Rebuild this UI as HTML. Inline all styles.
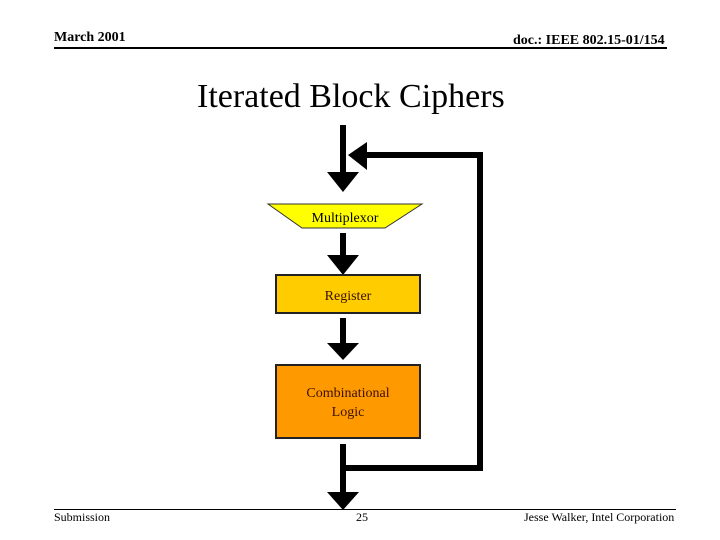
<!DOCTYPE html>
<html><head><style>
body{margin:0;width:720px;height:540px;background:#fff;position:relative;overflow:hidden;font-family:"Liberation Serif",serif}
.t{position:absolute;white-space:nowrap}
</style></head><body>
<div class="t" style="left:54px;top:30px;font-size:14px;font-weight:bold">March 2001</div>
<div class="t" style="left:513px;top:33px;font-size:14px;font-weight:bold">doc.: IEEE 802.15-01/154</div>
<div style="position:absolute;left:54px;top:47px;width:613px;height:2px;background:#000"></div>
<div class="t" style="left:197px;top:78px;font-size:34px">Iterated Block Ciphers</div>
<svg width="720" height="540" style="position:absolute;left:0;top:0">
<g fill="#000">
<rect x="340" y="125" width="6" height="50"/>
<polygon points="327,172 359,172 343,192"/>
<rect x="362" y="152" width="121" height="6"/>
<rect x="477" y="152" width="6" height="319"/>
<polygon points="348,155 367,142 367,170"/>
<rect x="340" y="233" width="6" height="24"/>
<polygon points="327,255 359,255 343,275"/>
<rect x="340" y="318" width="6" height="27"/>
<polygon points="327,343 359,343 343,360"/>
<rect x="340" y="444" width="6" height="50"/>
<rect x="343" y="465" width="140" height="6"/>
<polygon points="327,492 359,492 343,510"/>
</g>
<polygon points="268,204 422,204 385,228 302,228" fill="#ffff00" stroke="#333" stroke-width="1"/>
<text x="345" y="222" font-size="14" text-anchor="middle" font-family="Liberation Serif">Multiplexor</text>
<rect x="276" y="275" width="144" height="38" fill="#ffcc00" stroke="#222" stroke-width="2"/>
<text x="348" y="300" font-size="14" text-anchor="middle" fill="#3a1000" font-family="Liberation Serif">Register</text>
<rect x="276" y="365" width="144" height="73" fill="#ff9900" stroke="#222" stroke-width="2"/>
<text x="348" y="397" font-size="14" text-anchor="middle" fill="#3a1000" font-family="Liberation Serif">Combinational</text>
<text x="348" y="416" font-size="14" text-anchor="middle" fill="#3a1000" font-family="Liberation Serif">Logic</text>
</svg>
<div style="position:absolute;left:54px;top:509px;width:622px;height:1px;background:#000"></div>
<div class="t" style="left:54px;top:510px;font-size:12px">Submission</div>
<div class="t" style="left:356px;top:510px;font-size:12px">25</div>
<div class="t" style="left:524px;top:510px;font-size:12px">Jesse Walker, Intel Corporation</div>
</body></html>
